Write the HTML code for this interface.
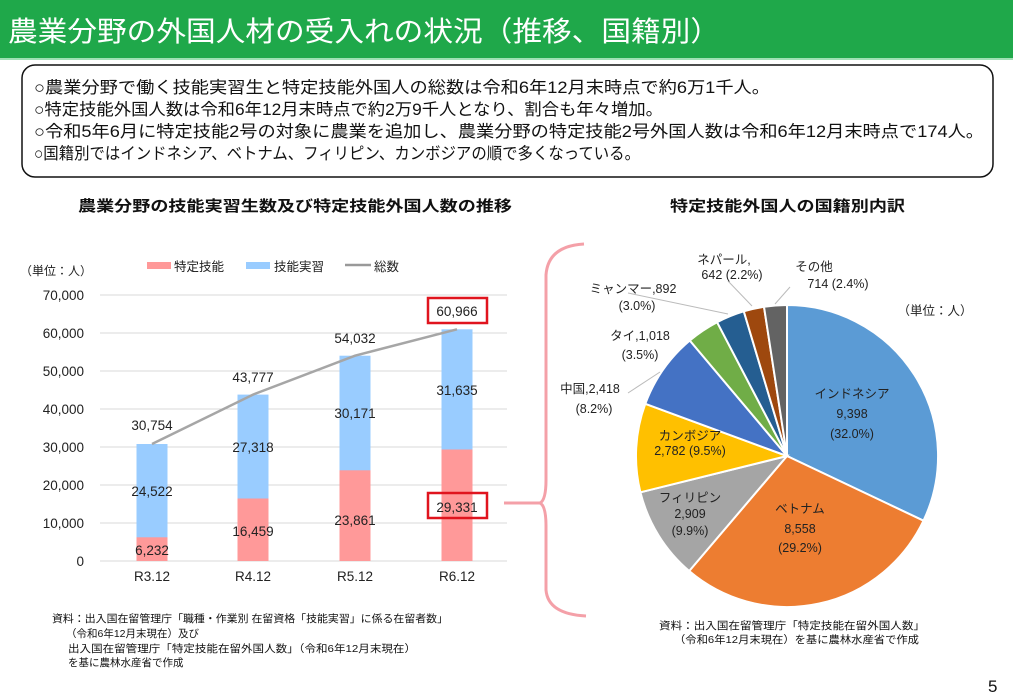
<!DOCTYPE html>
<html><head><meta charset="utf-8"><style>
body{margin:0;width:1013px;height:700px;background:#fff;overflow:hidden}
svg{display:block;font-family:"Liberation Sans","Noto Sans CJK JP",sans-serif}
</style></head><body>
<svg width="1013" height="700" viewBox="0 0 1013 700" xmlns="http://www.w3.org/2000/svg">
<rect x="0" y="0" width="1013" height="58" fill="#1fa84a"/>
<line x1="0" y1="59" x2="1013" y2="59" stroke="#9fe0b4" stroke-width="2"/>
<text x="8" y="41" font-size="28" fill="#fff" textLength="712" lengthAdjust="spacingAndGlyphs">農業分野の外国人材の受入れの状況（推移、国籍別）</text>
<rect x="22" y="65" width="971" height="112" rx="13" fill="#fff" stroke="#111" stroke-width="1.5"/>
<g font-size="16.5" fill="#111">
<text x="34" y="93" textLength="736" lengthAdjust="spacingAndGlyphs">○農業分野で働く技能実習生と特定技能外国人の総数は令和6年12月末時点で約6万1千人。</text>
<text x="34" y="115" textLength="629" lengthAdjust="spacingAndGlyphs">○特定技能外国人数は令和6年12月末時点で約2万9千人となり、割合も年々増加。</text>
<text x="34" y="137" textLength="950" lengthAdjust="spacingAndGlyphs">○令和5年6月に特定技能2号の対象に農業を追加し、農業分野の特定技能2号外国人数は令和6年12月末時点で174人。</text>
<text x="34" y="159" textLength="606" lengthAdjust="spacingAndGlyphs">○国籍別ではインドネシア、ベトナム、フィリピン、カンボジアの順で多くなっている。</text>
</g>
<text x="78" y="211" font-size="15" font-weight="bold" fill="#111" textLength="434" lengthAdjust="spacingAndGlyphs">農業分野の技能実習生数及び特定技能外国人数の推移</text>
<text x="670" y="211" font-size="15" font-weight="bold" fill="#111" textLength="235" lengthAdjust="spacingAndGlyphs">特定技能外国人の国籍別内訳</text>

<g stroke="#d9d9d9" stroke-width="1">
<line x1="100" y1="295" x2="507" y2="295"/><line x1="100" y1="333" x2="507" y2="333"/>
<line x1="100" y1="371" x2="507" y2="371"/><line x1="100" y1="409" x2="507" y2="409"/>
<line x1="100" y1="447" x2="507" y2="447"/><line x1="100" y1="485" x2="507" y2="485"/>
<line x1="100" y1="523" x2="507" y2="523"/><line x1="100" y1="561" x2="507" y2="561"/>
</g>
<g font-size="13.5" fill="#222" text-anchor="end">
<text x="84" y="300">70,000</text><text x="84" y="338">60,000</text><text x="84" y="376">50,000</text>
<text x="84" y="414">40,000</text><text x="84" y="452">30,000</text><text x="84" y="490">20,000</text>
<text x="84" y="528">10,000</text><text x="84" y="566">0</text>
</g>
<text x="20" y="275" font-size="12" fill="#222">（単位：人）</text>
<rect x="147" y="262" width="24" height="7" fill="#ff9999"/><text x="174" y="271" font-size="12.5" fill="#222">特定技能</text>
<rect x="246" y="262" width="24" height="7" fill="#99ccff"/><text x="274" y="271" font-size="12.5" fill="#222">技能実習</text>
<line x1="345" y1="265" x2="371" y2="265" stroke="#999" stroke-width="2.5"/><text x="374" y="271" font-size="12.5" fill="#222">総数</text>

<g fill="#99ccff">
<rect x="136.5" y="444" width="31" height="117"/><rect x="237.5" y="394.6" width="31" height="166.4"/>
<rect x="339.5" y="355.7" width="31" height="205.3"/><rect x="441.5" y="329.3" width="31" height="231.7"/>
</g>
<g fill="#ff9999">
<rect x="136.5" y="537.3" width="31" height="23.7"/><rect x="237.5" y="498.5" width="31" height="62.5"/>
<rect x="339.5" y="470.3" width="31" height="90.7"/><rect x="441.5" y="449.5" width="31" height="111.5"/>
</g>
<polyline points="152,444 253,394.6 355,355.7 457,329.3" fill="none" stroke="#a6a6a6" stroke-width="2.5"/>
<g font-size="13.5" fill="#222" text-anchor="middle">
<text x="152" y="430">30,754</text><text x="253" y="382">43,777</text><text x="355" y="343">54,032</text><text x="457" y="316">60,966</text>
<text x="152" y="496">24,522</text><text x="152" y="555">6,232</text>
<text x="253" y="452">27,318</text><text x="253" y="536">16,459</text>
<text x="355" y="418">30,171</text><text x="355" y="525">23,861</text>
<text x="457" y="395">31,635</text><text x="457" y="512">29,331</text>
<text x="152" y="581">R3.12</text><text x="253" y="581">R4.12</text><text x="355" y="581">R5.12</text><text x="457" y="581">R6.12</text>
</g>
<rect x="428" y="298" width="59" height="25" fill="none" stroke="#e0141e" stroke-width="2.5"/>
<rect x="428" y="493" width="59" height="25" fill="none" stroke="#e0141e" stroke-width="2.5"/>

<g font-size="10.5" fill="#111">
<text x="52" y="622" textLength="396" lengthAdjust="spacingAndGlyphs">資料：出入国在留管理庁「職種・作業別 在留資格「技能実習」に係る在留者数」</text>
<text x="66" y="637">（令和6年12月末現在）及び</text>
<text x="68" y="652" textLength="348" lengthAdjust="spacingAndGlyphs">出入国在留管理庁「特定技能在留外国人数」（令和6年12月末現在）</text>
<text x="68" y="666">を基に農林水産省で作成</text>
<text x="659" y="629" textLength="266" lengthAdjust="spacingAndGlyphs">資料：出入国在留管理庁「特定技能在留外国人数」</text>
<text x="674" y="643" textLength="245" lengthAdjust="spacingAndGlyphs">（令和6年12月末現在）を基に農林水産省で作成</text>
</g>
<text x="988" y="692" font-size="17" fill="#111">5</text>

<path d="M584,244 Q548,246 546,275 L546,480 Q546,500 540,503 Q546,506 546,526 L546,590 Q548,614 586,616" fill="none" stroke="#f4a0a8" stroke-width="3"/>
<line x1="504" y1="503" x2="540" y2="503" stroke="#f4a0a8" stroke-width="3"/>

<g stroke="#fff" stroke-width="2">
<path d="M787,456 L787,305 A151,151 0 0 1 923.5,520.7 Z" fill="#5b9bd5"/>
<path d="M787,456 L923.5,520.7 A151,151 0 0 1 689.2,571 Z" fill="#ed7d31"/>
<path d="M787,456 L689.2,571 A151,151 0 0 1 640.4,492.3 Z" fill="#a5a5a5"/>
<path d="M787,456 L640.4,492.3 A151,151 0 0 1 645.3,403.8 Z" fill="#ffc000"/>
<path d="M787,456 L645.3,403.8 A151,151 0 0 1 689.8,340.5 Z" fill="#4472c4"/>
<path d="M787,456 L689.8,340.5 A151,151 0 0 1 717.1,322.2 Z" fill="#70ad47"/>
<path d="M787,456 L717.1,322.2 A151,151 0 0 1 743.8,311.3 Z" fill="#255e91"/>
<path d="M787,456 L743.8,311.3 A151,151 0 0 1 764,306.8 Z" fill="#9e480e"/>
<path d="M787,456 L764,306.8 A151,151 0 0 1 787,305 Z" fill="#636363"/>
</g>
<g stroke="#bbb" stroke-width="1" fill="none">
<polyline points="628,293 728,314"/>
<polyline points="728,281 752,306"/>
<polyline points="790,287 775,304"/>
<polyline points="628,393 660,372"/>
</g>
<g font-size="12.5" fill="#222" text-anchor="middle">
<text x="852" y="398">インドネシア</text><text x="852" y="418">9,398</text><text x="852" y="438">(32.0%)</text>
<text x="800" y="513">ベトナム</text><text x="800" y="533">8,558</text><text x="800" y="552">(29.2%)</text>
<text x="690" y="502">フィリピン</text><text x="690" y="518">2,909</text><text x="690" y="535">(9.9%)</text>
<text x="690" y="440">カンボジア</text><text x="690" y="455">2,782 (9.5%)</text>
<text x="590" y="393">中国,2,418</text><text x="594" y="413">(8.2%)</text>
<text x="640" y="340">タイ,1,018</text><text x="640" y="359">(3.5%)</text>
<text x="633" y="293">ミャンマー,892</text><text x="637" y="310">(3.0%)</text>
<text x="724" y="264">ネパール,</text><text x="732" y="279">642 (2.2%)</text>
<text x="814" y="271">その他</text><text x="838" y="288">714 (2.4%)</text>
<text x="935" y="315">（単位：人）</text>
</g>
</svg>
</body></html>
